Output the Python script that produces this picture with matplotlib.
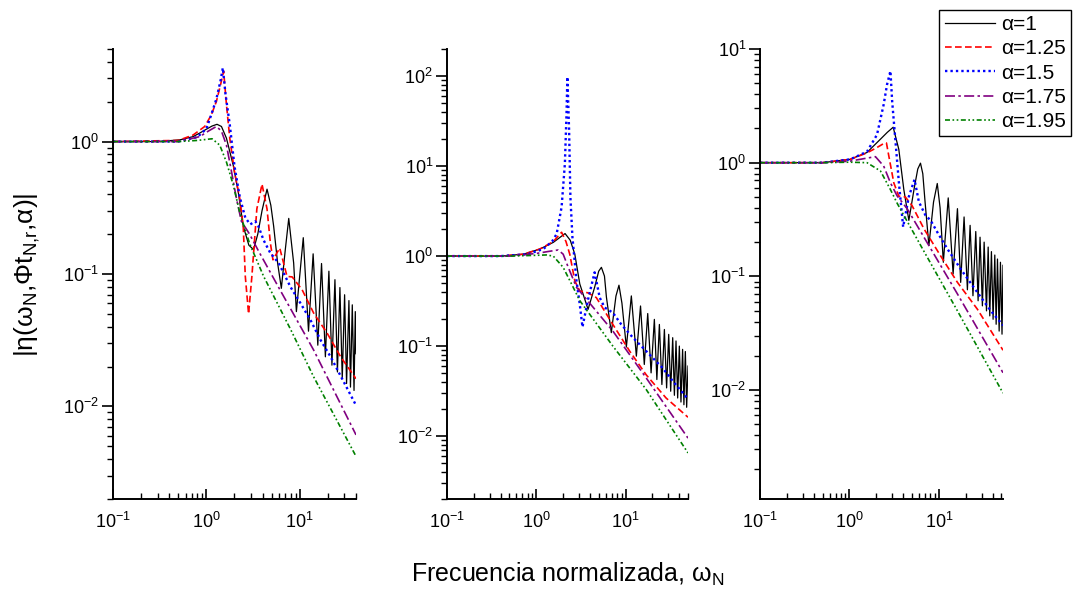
import numpy as np
import matplotlib
matplotlib.use('Agg')
import matplotlib.pyplot as plt
from matplotlib.ticker import LogLocator, FuncFormatter, NullFormatter

plt.rcParams['font.family'] = ['Liberation Sans', 'DejaVu Sans']
plt.rcParams['mathtext.fontset'] = 'custom'
plt.rcParams['mathtext.rm'] = 'Liberation Sans'
plt.rcParams['mathtext.it'] = 'Liberation Sans:italic'

# ---- panel 1 ----
p1_a100_x = [0.1, 0.3, 0.52, 0.72, 0.85, 1.0, 1.15, 1.3, 1.45, 1.64, 1.94, 2.19, 2.48, 2.85, 3.2, 3.55, 3.94,
             4.46, 4.9, 5.25, 5.8, 6.35, 7.0, 7.62, 8.6, 9.2, 10.9, 12.4, 13.9, 15.6, 17.1, 18.8, 20.5, 22.1,
             23.8, 25.3, 26.9, 28.5, 30.2, 31.7, 33.6, 34.9, 36.5, 38.1, 39.3, 40]
p1_a100_y = [1.0, 1.0, 1.03, 1.09, 1.16, 1.24, 1.31, 1.35, 1.3, 1.06, 0.66, 0.42, 0.23, 0.165, 0.153, 0.2, 0.3,
             0.437, 0.33, 0.23, 0.12, 0.078, 0.153, 0.263, 0.121, 0.052, 0.188, 0.037, 0.142, 0.029, 0.12, 0.0237,
             0.105, 0.0205, 0.0906, 0.0182, 0.079, 0.0162, 0.0697, 0.0149, 0.063, 0.014, 0.0585, 0.0132, 0.052, 0.025]
p1_a125_x = [0.1, 0.5, 0.72, 0.96, 1.13, 1.28, 1.42, 1.53, 1.64, 1.78, 2.0, 2.28, 2.48, 2.61, 2.83, 3.07, 3.47,
             3.94, 4.46, 4.84, 5.16, 6.1, 7.3, 8.3, 10.6, 14.1, 19.7, 27.4, 40]
p1_a125_y = [1.0, 1.02, 1.12, 1.3, 1.59, 2.01, 2.7, 3.4, 1.9, 1.06, 0.59, 0.37, 0.23, 0.096, 0.05, 0.096, 0.31,
             0.477, 0.31, 0.172, 0.128, 0.157, 0.096, 0.095, 0.076, 0.0506, 0.0356, 0.0237, 0.0162]
p1_a150_x = [0.1, 0.5, 0.8, 1.0, 1.13, 1.28, 1.42, 1.5, 1.6, 1.78, 2.0, 2.28, 2.61, 2.95, 3.34, 3.6, 4.1, 4.84,
             5.95, 7.94, 10.2, 13.0, 16.7, 21.4, 40]
p1_a150_y = [1.0, 1.0, 1.08, 1.25, 1.6, 2.1, 2.9, 3.6, 2.3, 1.34, 0.65, 0.38, 0.266, 0.237, 0.25, 0.23, 0.18,
             0.144, 0.121, 0.08, 0.06, 0.045, 0.0317, 0.0237, 0.0102]
p1_a175_x = [0.1, 0.5, 0.85, 1.05, 1.28, 1.45, 1.64, 1.86, 2.1, 2.37, 2.9, 3.6, 6.2, 14.1, 40]
p1_a175_y = [1.0, 1.0, 1.09, 1.2, 1.3, 1.2, 0.94, 0.59, 0.37, 0.25, 0.2, 0.15, 0.075, 0.0266, 0.0061]
p1_a195_x = [0.1, 0.5, 0.8, 1.15, 1.39, 1.64, 1.94, 2.28, 2.9, 4.1, 8.0, 14.1, 40]
p1_a195_y = [1.0, 1.0, 1.02, 1.05, 0.94, 0.7, 0.47, 0.29, 0.17, 0.096, 0.038, 0.0167, 0.0042]

# ---- panel 2 ----
p2_a100_x = [0.1, 0.4, 0.72, 1.1, 1.55, 1.85, 2.1, 2.4, 2.7, 3.07, 3.8, 4.5, 5.0, 5.36, 5.8, 6.1, 6.92, 7.8,
             8.43, 9.1, 10.2, 11.6, 13.2, 14.7, 16.2, 17.7, 19.3, 21.0, 22.4, 23.9, 25.5, 27.2, 28.8, 30.4, 32.0,
             33.7, 35.2, 36.7, 38.3, 40.0, 41.7, 43.5, 45.0, 46.7, 48.3, 50]
p2_a100_y = [1.0, 1.0, 1.05, 1.2, 1.42, 1.62, 1.78, 1.5, 1.05, 0.49, 0.256, 0.45, 0.68, 0.75, 0.6, 0.35, 0.141,
             0.36, 0.475, 0.3, 0.0975, 0.361, 0.0773, 0.279, 0.0625, 0.23, 0.0504, 0.198, 0.0425, 0.174, 0.0374,
             0.153, 0.0343, 0.135, 0.0315, 0.124, 0.0284, 0.114, 0.0265, 0.1, 0.0239, 0.092, 0.0223, 0.087,
             0.0209, 0.06]
p2_a125_x = [0.1, 0.4, 0.72, 1.1, 1.55, 1.92, 2.15, 2.37, 2.7, 3.07, 3.8, 4.7, 7.2, 11.1, 17, 28.4, 50]
p2_a125_y = [1.0, 1.0, 1.05, 1.2, 1.45, 1.84, 1.45, 1.05, 0.53, 0.41, 0.39, 0.346, 0.174, 0.088, 0.048, 0.0265,
             0.0162]
p2_a150_x = [0.1, 0.4, 0.8, 1.2, 1.5, 1.69, 1.92, 2.09, 2.18, 2.23, 2.33, 2.41, 2.54, 2.82, 3.07, 3.29, 3.8,
             4.5, 5.13, 5.83, 7.2, 8.95, 12.1, 17, 26, 33.7, 48]
p2_a150_y = [1.0, 1.0, 1.05, 1.2, 1.45, 1.76, 3.5, 10.6, 38, 98, 25, 4.5, 1.61, 0.53, 0.29, 0.163, 0.33, 0.66,
             0.346, 0.268, 0.235, 0.174, 0.124, 0.088, 0.057, 0.041, 0.027]
p2_a175_x = [0.1, 0.5, 1.0, 1.4, 1.76, 2.0, 2.28, 2.82, 7.2, 17, 50]
p2_a175_y = [1.0, 1.0, 1.07, 1.13, 1.17, 1.05, 0.75, 0.45, 0.147, 0.0443, 0.0095]
p2_a195_x = [0.1, 0.5, 1.0, 1.3, 1.55, 2.0, 2.59, 3.07, 7.2, 17, 50]
p2_a195_y = [1.0, 1.0, 1.02, 1.03, 1.0, 0.75, 0.45, 0.32, 0.1, 0.033, 0.0065]

# ---- panel 3 ----
p3_a100_x = [0.1, 0.5, 1.02, 1.57, 2.22, 2.65, 3.08, 3.56, 4.05, 4.61, 5.3, 5.8, 6.22, 6.6, 7.0, 7.72, 8.7,
             9.58, 10.3, 11.2, 12.7, 14.4, 16.1, 17.5, 19.1, 20.8, 22.3, 24, 25.8, 27.4, 28.8, 30.6, 32, 34,
             35.5, 37, 38.6, 40.3, 42.1, 43.6, 45.1, 47.1, 48.7, 50.7, 52]
p3_a100_y = [1.0, 1.0, 1.07, 1.23, 1.61, 1.85, 2.05, 1.31, 0.58, 0.311, 0.6, 0.88, 0.99, 0.8, 0.45, 0.187, 0.45,
             0.656, 0.4, 0.133, 0.49, 0.105, 0.394, 0.0885, 0.333, 0.0762, 0.281, 0.0675, 0.248, 0.061, 0.221,
             0.055, 0.2, 0.0497, 0.181, 0.0449, 0.165, 0.0419, 0.154, 0.0379, 0.142, 0.033, 0.133, 0.031, 0.125]
p3_a125_x = [0.1, 0.5, 1.02, 1.57, 2.0, 2.4, 2.59, 2.75, 3.13, 3.56, 4.2, 5.0, 6.8, 10.4, 16.1, 26.9, 52]
p3_a125_y = [1.0, 1.0, 1.07, 1.22, 1.35, 1.47, 1.49, 1.15, 0.665, 0.507, 0.5, 0.42, 0.262, 0.152, 0.0885,
             0.0514, 0.0224]
p3_a150_x = [0.1, 0.5, 1.02, 1.57, 2.03, 2.41, 2.63, 2.87, 3.0, 3.27, 3.56, 3.98, 4.6, 5.33, 5.97, 7.08, 8.07,
             9.58, 12.4, 17.5, 26.9, 38, 52]
p3_a150_y = [1.0, 1.0, 1.07, 1.25, 1.76, 3.24, 4.87, 6.4, 3.47, 1.53, 0.68, 0.272, 0.5, 0.71, 0.452, 0.344,
             0.311, 0.245, 0.175, 0.116, 0.0722, 0.0497, 0.0371]
p3_a175_x = [0.1, 0.5, 1.0, 1.5, 1.95, 2.41, 2.87, 3.41, 4.41, 6.8, 16.1, 52]
p3_a175_y = [1.0, 1.0, 1.03, 1.09, 1.13, 0.935, 0.665, 0.51, 0.394, 0.221, 0.07, 0.0142]
p3_a195_x = [0.1, 0.5, 1.0, 1.57, 2.22, 2.87, 3.41, 4.05, 6.8, 16.1, 52]
p3_a195_y = [1.0, 1.0, 1.01, 1.0, 0.845, 0.58, 0.44, 0.344, 0.166, 0.0497, 0.0094]

alpha_labels = ['\u03b1=1', '\u03b1=1.25', '\u03b1=1.5', '\u03b1=1.75', '\u03b1=1.95']
colors = ['black', '#ff0000', '#0000ff', '#800080', '#008000']
styles = ['-', (0, (4, 2)), (0, (1, 1.3)), (0, (6, 2, 1.5, 2)), (0, (3, 1.5, 1, 1.5, 1, 1.5))]
widths = [0.9, 1.2, 1.7, 1.2, 1.2]

panels = [
    dict(series=[(p1_a100_x, p1_a100_y), (p1_a125_x, p1_a125_y), (p1_a150_x, p1_a150_y),
                 (p1_a175_x, p1_a175_y), (p1_a195_x, p1_a195_y)],
         xlim=(0.1, 40), ylim=(0.002, 5), left=113, right=356),
    dict(series=[(p2_a100_x, p2_a100_y), (p2_a125_x, p2_a125_y), (p2_a150_x, p2_a150_y),
                 (p2_a175_x, p2_a175_y), (p2_a195_x, p2_a195_y)],
         xlim=(0.1, 50), ylim=(0.002, 200), left=447, right=688),
    dict(series=[(p3_a100_x, p3_a100_y), (p3_a125_x, p3_a125_y), (p3_a150_x, p3_a150_y),
                 (p3_a175_x, p3_a175_y), (p3_a195_x, p3_a195_y)],
         xlim=(0.1, 52), ylim=(0.0011, 10), left=760, right=1003),
]

W, H = 1073, 593
fig = plt.figure(figsize=(W / 100, H / 100), dpi=100)
top_px, bot_px = 49, 499


def pow10(v, pos):
    return r'$\mathregular{10^{%d}}$' % int(round(np.log10(v)))


handles = []
for p in panels:
    ax = fig.add_axes([p['left'] / W, (H - bot_px) / H, (p['right'] - p['left']) / W, (bot_px - top_px) / H])
    for (xs, ys), c, ls, lw in zip(p['series'], colors, styles, widths):
        ln, = ax.plot(xs, ys, color=c, linestyle=ls, linewidth=lw)
        if len(handles) < 5:
            handles.append(ln)
    ax.set_xscale('log')
    ax.set_yscale('log')
    ax.set_xlim(*p['xlim'])
    ax.set_ylim(*p['ylim'])
    for s in ['top', 'right']:
        ax.spines[s].set_visible(False)
    for s in ['left', 'bottom']:
        ax.spines[s].set_linewidth(1.4)
    for axis in [ax.xaxis, ax.yaxis]:
        axis.set_major_locator(LogLocator(base=10, numticks=20))
        axis.set_minor_locator(LogLocator(base=10, subs=np.arange(2, 10), numticks=20))
        axis.set_major_formatter(FuncFormatter(pow10))
        axis.set_minor_formatter(NullFormatter())
    ax.tick_params(axis='y', which='major', direction='out', length=8, width=1.2, labelsize=13, pad=2)
    ax.tick_params(axis='y', which='minor', direction='out', length=4.5, width=1.0)
    ax.tick_params(axis='x', which='major', direction='in', length=7, width=1.2, labelsize=13, pad=9)
    ax.tick_params(axis='x', which='minor', direction='in', length=4, width=1.0)

fig.text(27 / W, 1 - 275 / H, r'$\mathregular{|\eta(\omega_N{,}\Phi t_{N{,}r}{,}\alpha)|}$',
         rotation=90, ha='center', va='center', fontsize=19)
fig.text(568 / W, 1 - 574 / H, r'Frecuencia normalizada, $\mathregular{\omega_N}$',
         ha='center', va='center', fontsize=18)

leg = fig.legend(handles, alpha_labels, loc='upper right', bbox_to_anchor=(1071 / W, 1 - 10 / H),
                 fontsize=15, frameon=True, fancybox=False, edgecolor='black', framealpha=1,
                 handlelength=2.4, handletextpad=0.3, labelspacing=0.25, borderpad=0.25, borderaxespad=0)
leg.get_frame().set_linewidth(1.0)

fig.savefig('out.png', dpi=100)
